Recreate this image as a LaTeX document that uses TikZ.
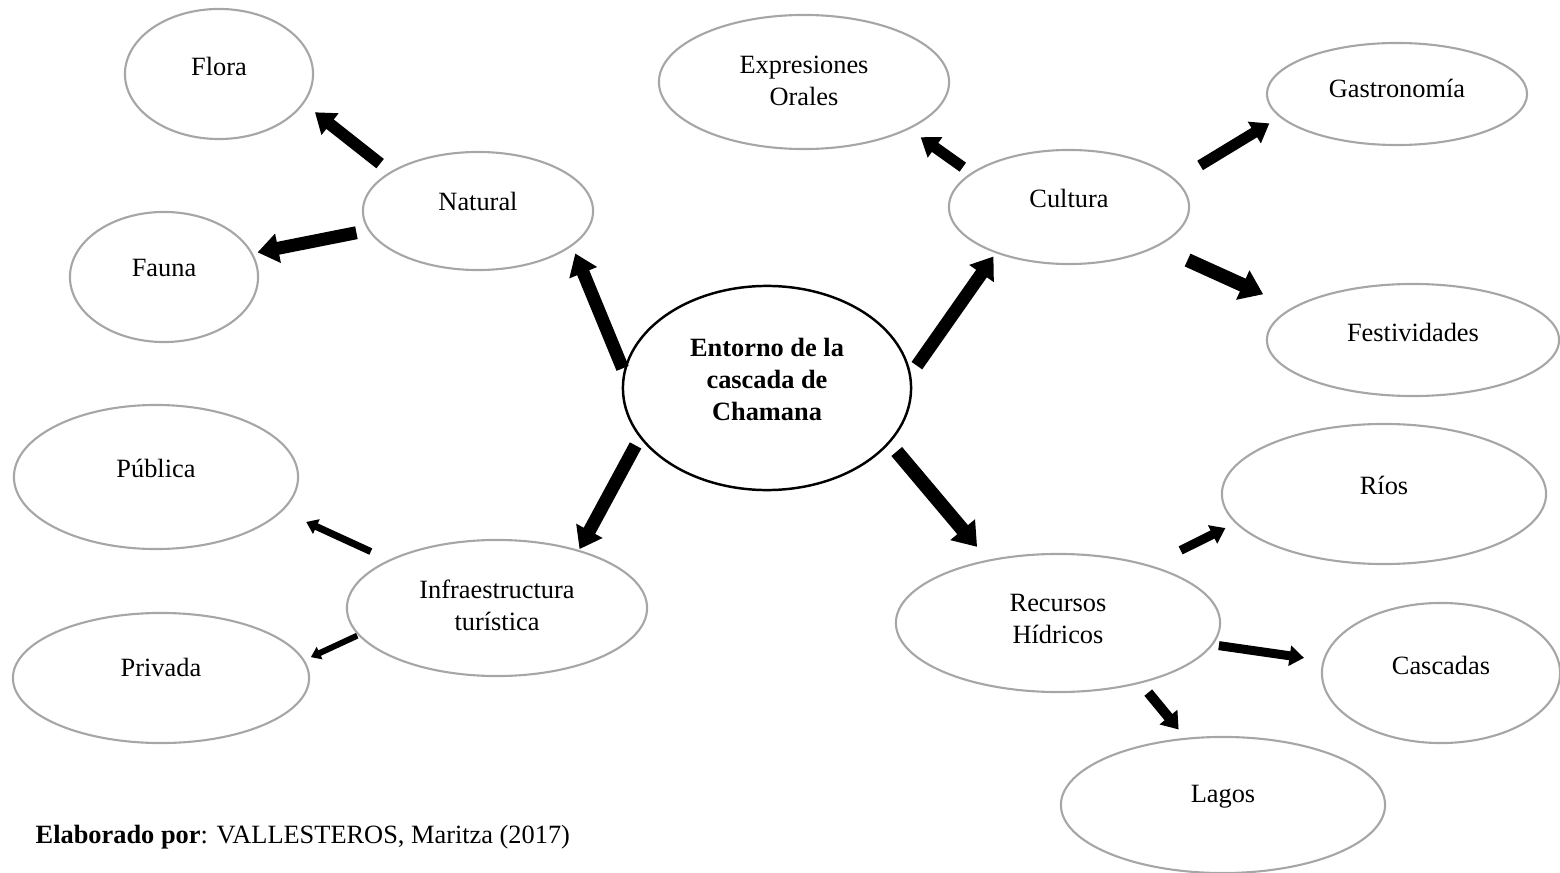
\documentclass[tikz,border=0pt]{standalone}
\usepackage{fontspec}
\setmainfont{Liberation Serif}
\newcommand{\letra}{\fontsize{7.5pt}{9.1pt}\selectfont}
\tikzset{font={\letra}}
\usetikzlibrary{
	arrows.meta,
	shapes,
	positioning
	}
\definecolor{grisborde}{HTML}{A6A6A6}
\tikzstyle{elipse-std}=[draw=grisborde,ellipse,line width=0.6pt,inner sep=0pt,outer sep=0pt]
\tikzstyle{elipse-centro}=[draw=black,ellipse,line width=0.7pt,inner sep=0pt,outer sep=0pt]
\tikzstyle{texto}=[inner sep=0pt,align=center]
\tikzstyle{flecha}=[-{Triangle[length=0pt 1.6,width=0pt 2.2]}]

\begin{document}
\begin{tikzpicture}[x=0.01cm,y=-0.01cm]
            \useasboundingbox (0,0) rectangle (1560,873);
            % nodo central
            \node[elipse-centro, minimum width=2.88cm, minimum height=2.04cm] (entorno) at (767,388) {};
            % ramas
            \node[elipse-std, minimum width=2.30cm, minimum height=1.18cm] (natural) at (478,211) {};
            \node[elipse-std, minimum width=2.40cm, minimum height=1.14cm] (cultura) at (1069,207) {};
            \node[elipse-std, minimum width=3.00cm, minimum height=1.36cm] (infraestructura) at (497,608) {};
            \node[elipse-std, minimum width=3.24cm, minimum height=1.38cm] (recursos) at (1058,623) {};
            % hojas
            \node[elipse-std, minimum width=1.88cm, minimum height=1.30cm] (flora) at (219,74) {};
            \node[elipse-std, minimum width=1.88cm, minimum height=1.30cm] (fauna) at (164,277) {};
            \node[elipse-std, minimum width=2.90cm, minimum height=1.34cm] (expresiones) at (804,82) {};
            \node[elipse-std, minimum width=2.60cm, minimum height=1.02cm] (gastronomia) at (1397,94) {};
            \node[elipse-std, minimum width=2.92cm, minimum height=1.12cm] (festividades) at (1413,340) {};
            \node[elipse-std, minimum width=2.84cm, minimum height=1.44cm] (publica) at (156,477) {};
            \node[elipse-std, minimum width=2.96cm, minimum height=1.30cm] (privada) at (161,678) {};
            \node[elipse-std, minimum width=3.24cm, minimum height=1.40cm] (rios) at (1384,494) {};
            \node[elipse-std, minimum width=2.38cm, minimum height=1.40cm] (cascadas) at (1441,673) {};
            \node[elipse-std, minimum width=3.24cm, minimum height=1.36cm] (lagos) at (1223,805) {};
            %
            \node[texto, font=\letra\bfseries] at ([yshift=0.09cm]entorno) {Entorno de la\\cascada de\\Chamana};
            \node[texto] at ([yshift=0.10cm]natural) {Natural};
            \node[texto] at ([yshift=0.09cm]cultura) {Cultura};
            \node[texto] at ([yshift=0.03cm]infraestructura) {Infraestructura\\tur\'istica};
            \node[texto] at ([yshift=0.04cm]recursos) {Recursos\\H\'idricos};
            \node[texto] at ([yshift=0.08cm]flora) {Flora};
            \node[texto] at ([yshift=0.09cm]fauna) {Fauna};
            \node[texto] at ([yshift=0.01cm]expresiones) {Expresiones\\Orales};
            \node[texto] at ([yshift=0.06cm]gastronomia) {Gastronom\'ia};
            \node[texto] at ([yshift=0.08cm]festividades) {Festividades};
            \node[texto] at ([yshift=0.09cm]publica) {P\'ublica};
            \node[texto] at ([yshift=0.11cm]privada) {Privada};
            \node[texto] at ([yshift=0.09cm]rios) {R\'ios};
            \node[texto] at ([yshift=0.08cm]cascadas) {Cascadas};
            \node[texto] at ([yshift=0.08cm]lagos) {Lagos};
            %
            \draw[flecha, line width=0.13cm, shorten <=0.05cm, shorten >=0.09cm] (entorno.174) -- (natural.-20);
            \draw[flecha, line width=0.13cm, shorten <=0.12cm, shorten >=0.05cm] (entorno.5) -- (cultura.212);
            \draw[flecha, line width=0.13cm, shorten <=0.10cm, shorten >=0.02cm] (entorno.201) -- (infraestructura.35);
            \draw[flecha, line width=0.14cm, shorten <=0.12cm, shorten >=0.18cm] (entorno.-24) -- (recursos.138);

            \draw[flecha, line width=0.12cm, shorten <=0.14cm, shorten >=0.15cm] (natural.156) -- (flora.-19);
            \draw[flecha, line width=0.13cm, shorten <=0.13cm, shorten >=0.06cm] (natural.190) -- (fauna.15);
            \draw[flecha, line width=0.11cm, shorten <=0.11cm, shorten >=0.15cm] (cultura.161) -- (expresiones.-24);
            \draw[flecha, line width=0.11cm, shorten <=0.29cm, shorten >=0.13cm] (cultura.14) -- (gastronomia.191);
            \draw[flecha, line width=0.14cm, shorten <=0.34cm, shorten >=0.33cm] (cultura.-24) -- (festividades.165);
            \draw[flecha, line width=0.07cm, shorten <=0.21cm, shorten >=0.27cm] (infraestructura.156) -- (publica.-15);
            \draw[flecha, line width=0.06cm, shorten <=0.02cm, shorten >=0.08cm] (infraestructura.191) -- (privada.7);
            \draw[flecha, line width=0.09cm, shorten <=0.35cm, shorten >=0.12cm] (recursos.32) -- (rios.191);
            \draw[flecha, line width=0.09cm, shorten <=0.07cm, shorten >=0.20cm] (recursos.-8) -- (cascadas.174);
            \draw[flecha, line width=0.10cm, shorten <=0.13cm, shorten >=0.12cm] (recursos.-36) -- (lagos.119);
            %
            \node[texto, anchor=west] (elaborado) at (35,837) {\textbf{Elaborado por}: VALLESTEROS, Maritza (2017)};
\end{tikzpicture}
\end{document}
